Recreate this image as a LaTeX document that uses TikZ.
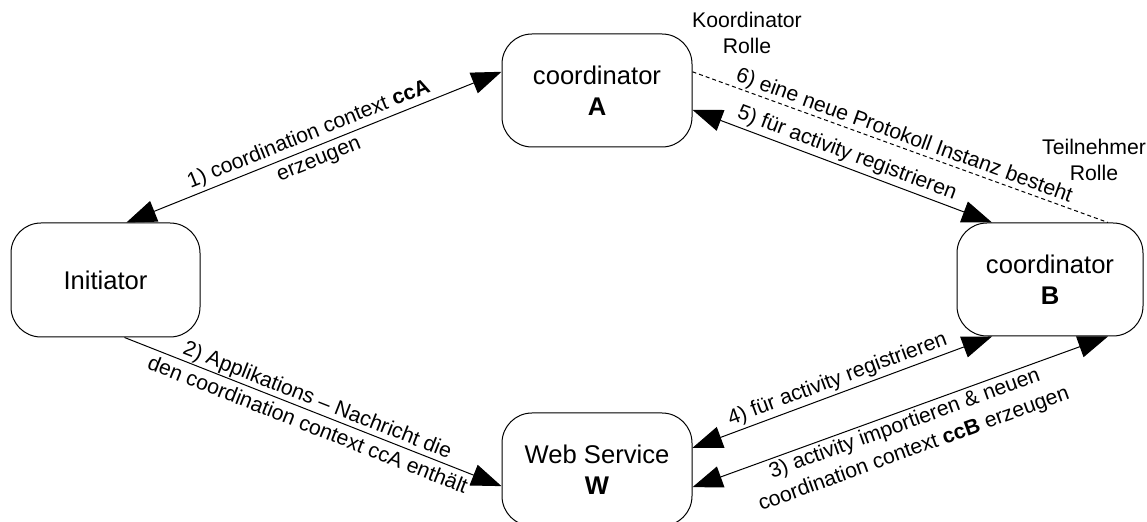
\documentclass[tikz,border=0pt]{standalone}
\usepackage{fontspec}
\setmainfont{Liberation Sans}
\usetikzlibrary{arrows.meta,calc}
\begin{document}
\begin{tikzpicture}[x=0.5pt,y=-0.5pt,
  box/.style={draw, line width=0.5pt, rounded corners=15pt, fill=white,
    minimum width=95pt, minimum height=56.5pt, align=center, inner sep=0pt,
    font=\fontsize{12.8}{15.5}\selectfont},
  conn/.style={line width=0.5pt},
  head/.style={-{Triangle[length=15pt,width=11pt]}},
  heads/.style={{Triangle[length=15pt,width=11pt]}-{Triangle[length=15pt,width=11pt]}},
  lbl/.style={font=\fontsize{10.6}{13.4}\selectfont, align=center, sloped, inner sep=1.5pt},
  role/.style={font=\fontsize{10.6}{13.4}\selectfont, align=center, inner sep=0pt}]

\useasboundingbox (0,0) rectangle (1147,522);

% participants
\node[box] (A) at (597,90.5) {coordinator\\\textbf{A}};
\node[box, minimum width=94.5pt, minimum height=57pt] (I) at (105.5,280) {Initiator};
\node[box, minimum width=93pt] (B) at (1050,279.5) {coordinator\\\textbf{B}};
\node[box] (W) at (597,469.5) {Web Service\\\textbf{W}};

% role captions
\node[role] (KR) at (747,33) {Koordinator\\Rolle};
\node[role] (TR) at (1094,160) {Teilnehmer\\Rolle};

% docking points on the box borders
\coordinate (Itop) at ($(I.north west)!0.61!(I.north east)$);
\coordinate (Ibot) at ($(I.south west)!0.60!(I.south east)$);
\coordinate (Al)   at ($(A.north west)!0.336!(A.south west)$);
\coordinate (Ar1)  at ($(A.north east)!0.336!(A.south east)$);
\coordinate (Ar2)  at ($(A.north east)!0.67!(A.south east)$);
\coordinate (Bt1)  at ($(B.north west)!0.19!(B.north east)$);
\coordinate (Bt2)  at ($(B.north west)!0.81!(B.north east)$);
\coordinate (Bb1)  at ($(B.south west)!0.19!(B.south east)$);
\coordinate (Bb2)  at ($(B.south west)!0.81!(B.south east)$);
\coordinate (Wl)   at ($(W.north west)!0.646!(W.south west)$);
\coordinate (Wr1)  at ($(W.north east)!0.31!(W.south east)$);
\coordinate (Wr2)  at ($(W.north east)!0.655!(W.south east)$);

% messages
\draw[conn,heads] (Itop) -- node[lbl] {1) coordination context \textbf{ccA}\\erzeugen} (Al);
\draw[conn,head] (Ibot) -- node[lbl] {2) Applikations – Nachricht die\\den coordination context ccA enthält} (Wl);
\draw[conn,heads] (Wr2) -- node[lbl,below,pos=0.5] {3) activity importieren \& neuen\\coordination context \textbf{ccB} erzeugen} (Bb2);
\draw[conn,heads] (Wr1) -- node[lbl,above] {4) für activity registrieren} (Bb1);
\draw[conn,heads] (Ar2) -- node[lbl,above,pos=0.5] {5) für activity registrieren} (Bt1);
\draw[conn,dash pattern=on 2pt off 1.5pt] (Ar1) -- node[lbl,above,inner sep=0.5pt] {6) eine neue Protokoll Instanz besteht} (Bt2);
\end{tikzpicture}
\end{document}
